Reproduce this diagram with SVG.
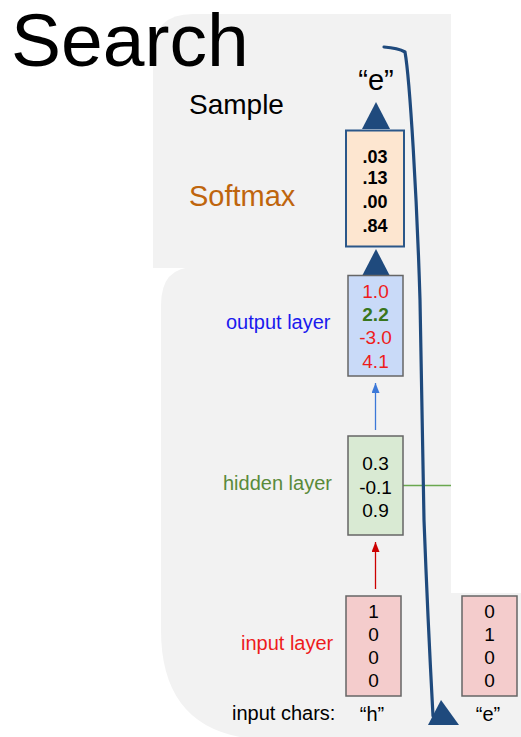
<svg xmlns="http://www.w3.org/2000/svg" width="521" height="737" viewBox="0 0 521 737">
  <style>
    text { font-family: "Liberation Sans", Arial, sans-serif; }
    .val { font-size: 19px; text-anchor: middle; }
    .prob { font-size: 18px; font-weight: bold; text-anchor: middle; fill: #000000; }
    .lbl { font-size: 20px; }
    .box { stroke: #666666; stroke-width: 1.5; }
  </style>
  <defs>
    <marker id="headBlue" viewBox="0 0 10 8" refX="10" refY="4" markerWidth="10" markerHeight="8" markerUnits="userSpaceOnUse" orient="auto">
      <path d="M0,0 L10,4 L0,8 Z" fill="#3c78d8"/>
    </marker>
    <marker id="headRed" viewBox="0 0 10 8" refX="10" refY="4" markerWidth="10" markerHeight="8" markerUnits="userSpaceOnUse" orient="auto">
      <path d="M0,0 L10,4 L0,8 Z" fill="#cc0000"/>
    </marker>
  </defs>

  <rect width="521" height="737" fill="#ffffff"/>

  <!-- panel background -->
  <path d="M153,54 Q153,14 193,14 L451,14 L451,268 L153,268 Z" fill="#f2f2f2"/>
  <path d="M195,267 L451,267 L451,593 L521,593 L521,737 L240,737 Q161,722 161,630 L161,305 Q161,267 195,267 Z" fill="#f2f2f2"/>

  <text x="11" y="66" font-size="75" fill="#000000">Search</text>

  <!-- side labels -->
  <text x="189" y="114" font-size="28" fill="#000000">Sample</text>
  <text x="189" y="206" font-size="29" fill="#bf650d">Softmax</text>
  <text x="226" y="329" class="lbl" fill="#1a1aee">output layer</text>
  <text x="223" y="490" class="lbl" fill="#5a8a3a">hidden layer</text>
  <text x="241" y="650" class="lbl" fill="#ee1c1c">input layer</text>
  <text x="232" y="720" class="lbl" fill="#000000">input chars:</text>

  <!-- sampled char -->
  <text x="376" y="90" font-size="29" text-anchor="middle" fill="#000000">“e”</text>

  <!-- connectors -->
  <g id="connectors">
    <polygon points="376,102 362,129 390,129" fill="#1f4a7d"/>
    <polygon points="376,249 362,276 390,276" fill="#1f4a7d"/>
    <line x1="375.5" y1="430" x2="375.5" y2="383" stroke="#3c78d8" stroke-width="1.3" marker-end="url(#headBlue)"/>
    <line x1="375.5" y1="589" x2="375.5" y2="542" stroke="#cc0000" stroke-width="1.3" marker-end="url(#headRed)"/>
    <line x1="403" y1="485.5" x2="451" y2="485.5" stroke="#6aa84f" stroke-width="1.3"/>
    <path d="M384,47 Q398,48 405,52 C410,80 417,200 420,300 L424,520 C427,600 430,660 433,716" fill="none" stroke="#1f4a7d" stroke-width="3.2" stroke-linecap="round"/>
    <polygon points="441,700 428,725 459,725" fill="#1f4a7d"/>
  </g>

  <!-- softmax probabilities -->
  <g id="softmax">
    <rect x="346" y="130.5" width="58" height="116" fill="#fde6d0" stroke="#2b5789" stroke-width="2"/>
    <text x="375" y="163" class="prob">.03</text>
    <text x="375" y="184" class="prob">.13</text>
    <text x="375" y="208" class="prob">.00</text>
    <text x="375" y="232" class="prob">.84</text>
  </g>

  <!-- output layer -->
  <g id="output">
    <rect x="348" y="275.5" width="55" height="100.5" fill="#c9daf8" class="box"/>
    <text x="375.5" y="298" class="val" fill="#ee1c1c">1.0</text>
    <text x="375.5" y="321" class="val" fill="#38761d" font-weight="bold">2.2</text>
    <text x="375.5" y="344" class="val" fill="#ee1c1c">-3.0</text>
    <text x="375.5" y="368" class="val" fill="#ee1c1c">4.1</text>
  </g>

  <!-- hidden layer -->
  <g id="hidden">
    <rect x="348" y="436" width="55" height="99" fill="#d9ead3" class="box"/>
    <text x="375.5" y="470" class="val" fill="#000000">0.3</text>
    <text x="375.5" y="494" class="val" fill="#000000">-0.1</text>
    <text x="375.5" y="517" class="val" fill="#000000">0.9</text>
  </g>

  <!-- input vector for "h" -->
  <g id="input-h">
    <rect x="346" y="596" width="55" height="100" fill="#f4cccc" class="box"/>
    <text x="373.5" y="618" class="val" fill="#000000">1</text>
    <text x="373.5" y="641" class="val" fill="#000000">0</text>
    <text x="373.5" y="664" class="val" fill="#000000">0</text>
    <text x="373.5" y="687" class="val" fill="#000000">0</text>
    <text x="372" y="721" class="lbl" text-anchor="middle" fill="#000000">“h”</text>
  </g>

  <!-- input vector for "e" -->
  <g id="input-e">
    <rect x="462" y="596" width="55" height="100" fill="#f4cccc" class="box"/>
    <text x="489.5" y="618" class="val" fill="#000000">0</text>
    <text x="489.5" y="641" class="val" fill="#000000">1</text>
    <text x="489.5" y="664" class="val" fill="#000000">0</text>
    <text x="489.5" y="687" class="val" fill="#000000">0</text>
    <text x="488" y="721" class="lbl" text-anchor="middle" fill="#000000">“e”</text>
  </g>
</svg>
